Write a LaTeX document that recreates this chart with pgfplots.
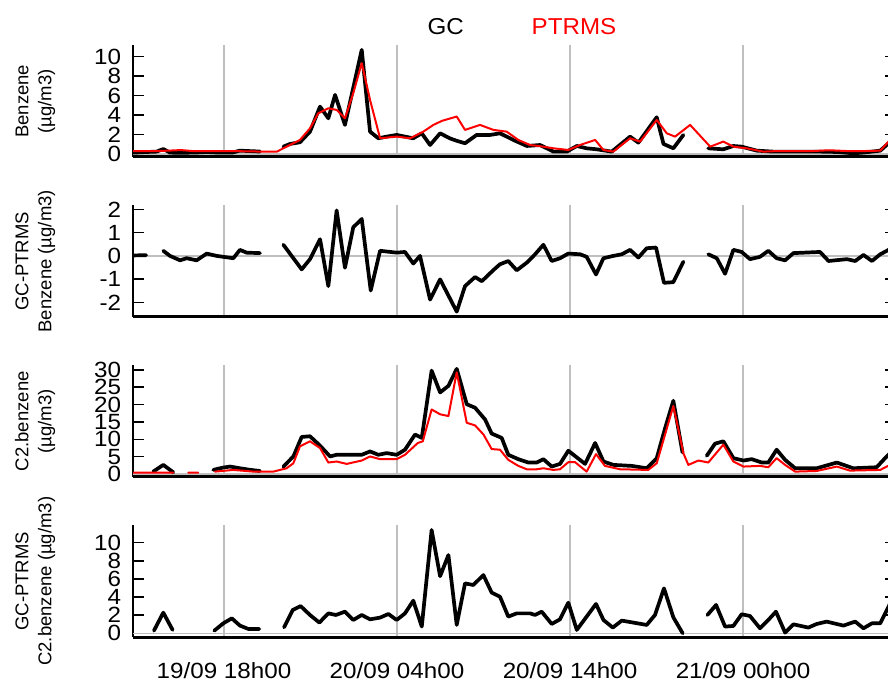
\documentclass[border=0pt]{standalone}
\usepackage{fontspec}
\setmainfont{Liberation Sans}
\newfontfamily\tickfont[FakeStretch=1.1]{Liberation Sans}
\newfontfamily\titlefont[FakeStretch=1.05]{Liberation Sans}
\usepackage{pgfplots}
\pgfplotsset{compat=1.18}
\pgfplotsset{
  panel/.style={
    scale only axis, width=763pt, height=111.5pt,
    xmin=12.74, xmax=56.84,
    axis x line*=bottom, axis y line*=box,
    x axis line style={line width=3pt},
    y axis line style={line width=2pt},
    tick align=inside,
    xtick={18,28,38,48}, xticklabels={},
    xtick style={draw=none},
    major tick length=11pt,
    ytick style={line width=1.5pt, black},
    xmajorgrids=true,
    major grid style={color=black!25, line width=1.5pt},
    extra y ticks={0}, extra y tick labels={},
    extra y tick style={ymajorgrids=true, major tick length=0pt},
    yticklabel style={font=\tickfont\fontsize{22}{22}\selectfont, xshift=-8.4pt},
    every axis y label/.style={at={(axis description cs:-0.0972,0.5)}, rotate=90, anchor=south, align=center, font=\fontsize{18.5}{23}\selectfont},
    unbounded coords=jump,
    anchor=south west,
  },
  gcline/.style={black, line width=3.7pt, line join=round, line cap=round, mark=none},
  ptline/.style={red, line width=2pt, line join=round, line cap=round, mark=none},
}
\begin{document}
\begin{tikzpicture}
% ---------------- Panel 1: Benzene
\begin{axis}[panel, at={(133pt,525pt)}, ymin=-0.31, ymax=11.13,
  ytick={0,2,4,6,8,10}, yticklabels={0,2,4,6,8,10},
  ylabel={Benzene\\(µg/m3)}]
\addplot[gcline] coordinates {(12.76,0.14) (13.5,0.2) (14.1,0.24) (14.49,0.51) (14.88,0.14) (15.5,0.12) (16.4,0.15) (17.0,0.2) (17.6,0.15) (18.5,0.15) (18.92,0.34) (19.4,0.3) (20.08,0.25) (20.8,nan) (21.43,0.75) (21.82,1.03) (22.39,1.2) (22.97,2.29) (23.55,4.86) (24.03,3.66) (24.42,6.06) (24.99,2.98) (25.96,10.68) (26.44,2.29) (26.92,1.61) (27.4,1.78) (27.98,1.95) (28.46,1.78) (28.94,1.61) (29.43,2.12) (29.91,0.92) (30.49,2.12) (31.06,1.6) (31.45,1.35) (31.93,1.1) (32.6,1.95) (33.37,1.95) (33.95,2.12) (34.72,1.44) (35.5,0.82) (36.27,0.92) (37.04,0.24) (37.81,0.24) (38.39,0.82) (38.96,0.58) (39.54,0.48) (40.41,0.24) (41.47,1.78) (41.95,1.16) (43.01,3.77) (43.4,1.03) (43.97,0.58) (44.55,1.95) (45.2,nan) (45.99,0.58) (46.86,0.48) (47.44,0.82) (47.92,0.75) (48.79,0.34) (49.75,0.24) (51,0.24) (52.5,0.24) (53.5,0.2) (54.37,0.07) (55,0.15) (55.93,0.34) (56.41,1.1) (56.9,2.0)};
\addplot[ptline] coordinates {(12.76,0.3) (13.5,0.28) (14.2,0.3) (14.9,0.35) (15.5,0.4) (16.2,0.3) (17,0.28) (18,0.28) (19,0.28) (20,0.25) (21.05,0.24) (21.62,0.75) (22.39,1.44) (22.97,2.63) (23.45,4.18) (24.03,4.69) (24.51,4.52) (24.99,3.66) (25.47,6.23) (25.96,9.32) (26.44,5.55) (27.02,1.61) (27.98,1.78) (28.75,1.61) (29.52,2.29) (30.1,2.98) (30.6,3.4) (31.45,3.84) (31.93,2.47) (32.8,2.98) (33.57,2.47) (34.34,2.29) (35.01,1.44) (35.69,0.92) (36.46,0.75) (37.04,0.58) (37.9,0.41) (38.58,0.92) (39.45,1.44) (39.93,0.41) (40.5,0.24) (41.47,1.61) (42.05,1.27) (43.01,3.49) (43.59,2.12) (44.07,1.78) (44.94,2.98) (46.1,0.75) (46.86,1.27) (47.44,0.75) (48.21,0.58) (49.17,0.24) (50,0.3) (51,0.3) (52,0.3) (53,0.38) (54,0.3) (55,0.3) (55.93,0.34) (56.41,1.27) (56.9,2.2)};
\end{axis}
% ---------------- Panel 2: GC-PTRMS Benzene
\begin{axis}[panel, at={(133pt,365pt)}, ymin=-2.63, ymax=2.17,
  ytick={-2,-1,0,1,2}, yticklabels={-2,-1,0,1,2},
  ylabel={GC-PTRMS\\Benzene (µg/m3)}]
\addplot[gcline] coordinates {(12.76,0.02) (13.5,0.03) (14.0,nan) (14.49,0.22) (14.88,0) (15.46,-0.19) (15.84,-0.1) (16.42,-0.19) (17.0,0.1) (17.58,0) (18.54,-0.1) (18.92,0.26) (19.31,0.14) (20.08,0.12) (20.8,nan) (21.43,0.48) (22.49,-0.58) (22.97,-0.14) (23.55,0.72) (24.03,-1.3) (24.51,1.96) (24.99,-0.51) (25.47,1.23) (25.96,1.59) (26.48,-1.49) (27.02,0.22) (27.98,0.14) (28.46,0.17) (28.94,-0.33) (29.33,0) (29.91,-1.88) (30.49,-1.01) (31.45,-2.4) (31.93,-1.3) (32.51,-0.91) (32.9,-1.09) (33.57,-0.61) (33.95,-0.36) (34.43,-0.22) (34.92,-0.62) (35.5,-0.29) (35.98,0.07) (36.46,0.48) (36.94,-0.22) (37.42,-0.1) (37.9,0.1) (38.58,0.07) (38.96,-0.04) (39.5,-0.8) (39.93,-0.1) (40.5,0) (40.99,0.07) (41.47,0.26) (41.95,-0.07) (42.43,0.33) (42.97,0.36) (43.43,-1.16) (43.97,-1.13) (44.55,-0.25) (45.2,nan) (45.99,0.07) (46.48,-0.1) (46.96,-0.77) (47.44,0.26) (47.92,0.17) (48.4,-0.14) (48.98,-0.04) (49.46,0.22) (49.94,-0.1) (50.43,-0.19) (50.91,0.12) (52.45,0.17) (52.94,-0.22) (54.0,-0.14) (54.48,-0.22) (54.96,0.04) (55.45,-0.22) (55.93,0.07) (56.41,0.26) (56.9,0.5)};
\end{axis}
% ---------------- Panel 3: C2.benzene
\begin{axis}[panel, at={(133pt,205pt)}, ymin=-0.87, ymax=31.27,
  ytick={0,5,10,15,20,25,30}, yticklabels={0,5,10,15,20,25,30},
  ylabel={C2.benzene\\(µg/m3)}]
\addplot[gcline] coordinates {(13.91,0.68) (14.49,2.62) (15.07,0.49) (16.0,nan) (17.38,1.17) (17.9,1.8) (18.35,2.14) (18.92,1.65) (19.5,1.2) (20.08,0.87) (20.8,nan) (21.43,2.14) (22.01,5.05) (22.49,10.68) (22.97,10.87) (23.55,8.16) (24.13,5.05) (24.51,5.53) (25.96,5.53) (26.44,6.5) (26.92,5.53) (27.4,6.02) (27.98,5.53) (28.46,6.99) (29.04,11.36) (29.43,10.39) (30.0,29.8) (30.49,23.5) (30.97,25.4) (31.45,30.3) (32.03,20.1) (32.51,19.1) (33.09,15.7) (33.47,11.65) (34.05,10.4) (34.43,5.53) (35.01,4.27) (35.59,3.3) (36.07,3.3) (36.46,4.27) (36.94,2.14) (37.42,2.9) (37.9,6.7) (38.87,2.9) (39.45,8.93) (39.93,3.6) (40.5,2.62) (41.57,2.33) (42.43,1.65) (43.01,4.56) (43.5,13.3) (43.97,21.1) (44.5,6.2) (45.2,nan) (45.9,5.24) (46.38,8.74) (46.86,9.42) (47.44,4.56) (48.02,3.88) (48.5,4.27) (49.08,3.3) (49.46,3.3) (49.94,7.0) (50.43,4.08) (51.01,1.65) (52.26,1.65) (53.42,3.3) (54.37,1.65) (55.72,1.94) (56.3,5.05) (56.9,8)};
\addplot[ptline] coordinates {(12.76,0.39) (13.5,0.39) (14.3,0.39) (15.07,0.39) (15.5,nan) (15.94,0.39) (16.51,0.39) (17.0,nan) (17.48,0.68) (18.54,1.17) (19.69,0.68) (20.85,0.68) (21.62,1.65) (22.01,3.1) (22.39,7.96) (22.97,9.42) (23.55,7.48) (24.03,3.3) (24.51,3.6) (25.09,2.9) (25.96,3.88) (26.44,5.05) (27.02,4.27) (27.98,4.27) (28.46,5.53) (29.2,8.93) (29.49,9.42) (30.0,18.6) (30.49,17.2) (30.97,16.7) (31.45,29.3) (32.03,14.76) (32.51,14.0) (33.0,11.36) (33.47,7.18) (33.95,7.0) (34.43,4.08) (35.01,2.33) (35.5,1.36) (36.07,1.36) (36.46,1.65) (37.04,1.17) (37.42,1.36) (37.9,3.4) (38.29,3.4) (38.96,0.68) (39.5,5.73) (40.02,2.33) (40.89,1.36) (42.52,1.17) (43.01,3.1) (43.97,19.6) (44.55,6.0) (44.84,2.62) (45.42,3.88) (45.99,3.3) (46.86,8.45) (47.44,3.6) (48.02,2.14) (48.98,2.33) (49.46,1.94) (49.94,4.56) (50.43,2.62) (51.01,0.68) (52.26,0.87) (53.42,2.14) (54.18,0.97) (55.93,1.17) (56.3,2.14) (56.9,3.5)};
\end{axis}
% ---------------- Panel 4: GC-PTRMS C2.benzene
\begin{axis}[panel, at={(133pt,45pt)}, ymin=-0.41, ymax=11.9,
  ytick={0,2,4,6,8,10}, yticklabels={0,2,4,6,8,10},
  xticklabels={19/09 18h00, 20/09 04h00, 20/09 14h00, 21/09 00h00},
  xticklabel style={font=\tickfont\fontsize{22}{22}\selectfont, anchor=base, yshift=-41.5pt},
  ylabel={GC-PTRMS\\C2.benzene (µg/m3)}]
\addplot[gcline] coordinates {(13.95,0.29) (14.49,2.28) (15.03,0.37) (16.0,nan) (17.44,0.29) (17.96,1.1) (18.45,1.65) (18.92,0.85) (19.4,0.48) (20.04,0.48) (20.8,nan) (21.47,0.66) (21.97,2.57) (22.43,3.0) (22.97,2.02) (23.51,1.18) (24.03,2.2) (24.47,2.02) (24.99,2.39) (25.47,1.47) (25.96,2.02) (26.44,1.54) (27.02,1.73) (27.5,2.13) (27.98,1.47) (28.46,2.2) (28.94,3.6) (29.43,0.74) (30.0,11.4) (30.49,6.3) (30.97,8.64) (31.45,0.92) (31.93,5.51) (32.41,5.33) (32.99,6.43) (33.47,4.49) (33.95,4.04) (34.43,1.84) (34.92,2.2) (35.69,2.2) (35.98,2.02) (36.36,2.39) (36.94,1.03) (37.42,1.54) (37.9,3.38) (38.39,0.37) (39.5,3.24) (39.93,1.47) (40.47,0.63) (40.99,1.4) (41.66,1.18) (42.43,0.92) (42.91,2.02) (43.43,4.96) (43.97,1.76) (44.51,0) (45.2,nan) (45.94,2.02) (46.44,3.13) (46.96,0.74) (47.44,0.81) (47.92,2.1) (48.4,1.91) (48.98,0.55) (49.46,1.47) (49.9,2.39) (50.43,0.07) (50.91,0.99) (51.77,0.63) (52.26,1.03) (52.83,1.29) (53.8,0.85) (54.48,1.29) (54.96,0.55) (55.45,1.1) (55.93,1.1) (56.41,2.94) (56.9,5)};
\end{axis}
% ---------------- Title
\node[anchor=base, inner sep=0pt, font=\titlefont\fontsize{23}{23}\selectfont] at (445.7pt,647pt) {GC};
\node[anchor=base, inner sep=0pt, text=red, font=\titlefont\fontsize{23}{23}\selectfont] at (574pt,647pt) {PTRMS};
\pgfresetboundingbox
\path[use as bounding box] (0,0) rectangle (888pt,682pt);
\end{tikzpicture}
\end{document}
